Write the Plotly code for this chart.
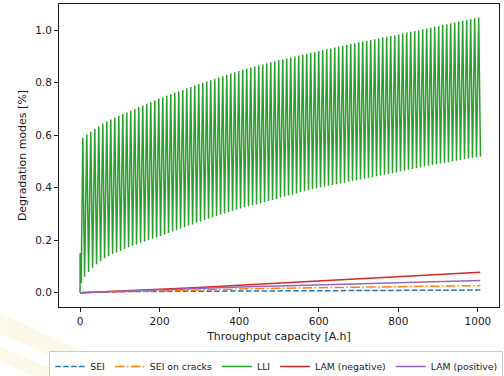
import plotly.graph_objects as go

# ---- throughput axis samples for the slow degradation modes [A.h] ----
mode_ah = [0, 50, 100, 200, 300, 400, 500, 600, 700, 800, 900, 1006]
sei = [0.0, 0.003, 0.004, 0.005, 0.006, 0.007, 0.0075, 0.008, 0.0085, 0.009, 0.0095, 0.010]
sei_cracks = [0.0, 0.002, 0.004, 0.008, 0.011, 0.014, 0.017, 0.019, 0.021, 0.023, 0.025, 0.027]
lam_neg = [0.0, 0.003, 0.006, 0.013, 0.020, 0.028, 0.036, 0.044, 0.052, 0.060, 0.069, 0.078]
lam_pos = [0.0, 0.003, 0.006, 0.012, 0.017, 0.022, 0.026, 0.030, 0.034, 0.038, 0.042, 0.046]

# ---- LLI: initial transient, then one peak (end of charge) and one trough per cycle ----
lli_start_ah = [0.0, 0.3, 3.0]
lli_start = [0.0, 0.151, 0.037]

lli_peak_ah = [
    7.0, 17.05, 27.1, 37.15, 47.2, 57.25, 67.3, 77.35, 87.4, 97.45,
    107.5, 117.55, 127.6, 137.65, 147.7, 157.75, 167.8, 177.85, 187.9, 197.95,
    208.0, 218.05, 228.1, 238.15, 248.2, 258.25, 268.3, 278.35, 288.4, 298.45,
    308.5, 318.55, 328.6, 338.65, 348.7, 358.75, 368.8, 378.85, 388.9, 398.95,
    409.0, 419.05, 429.1, 439.15, 449.2, 459.25, 469.3, 479.35, 489.4, 499.45,
    509.5, 519.55, 529.6, 539.65, 549.7, 559.75, 569.8, 579.85, 589.9, 599.95,
    610.0, 620.05, 630.1, 640.15, 650.2, 660.25, 670.3, 680.35, 690.4, 700.45,
    710.5, 720.55, 730.6, 740.65, 750.7, 760.75, 770.8, 780.85, 790.9, 800.95,
    811.0, 821.05, 831.1, 841.15, 851.2, 861.25, 871.3, 881.35, 891.4, 901.45,
    911.5, 921.55, 931.6, 941.65, 951.7, 961.75, 971.8, 981.85, 991.9, 1001.95,
]
lli_peak = [
    0.590, 0.602, 0.613, 0.623, 0.634, 0.644, 0.652, 0.659, 0.666, 0.673,
    0.680, 0.686, 0.693, 0.699, 0.706, 0.712, 0.719, 0.725, 0.732, 0.739,
    0.744, 0.750, 0.755, 0.761, 0.766, 0.772, 0.778, 0.783, 0.789, 0.794,
    0.799, 0.804, 0.809, 0.814, 0.819, 0.824, 0.829, 0.834, 0.839, 0.844,
    0.849, 0.853, 0.857, 0.861, 0.865, 0.869, 0.873, 0.877, 0.881, 0.885,
    0.888, 0.892, 0.895, 0.899, 0.902, 0.906, 0.909, 0.913, 0.916, 0.920,
    0.923, 0.927, 0.930, 0.933, 0.937, 0.940, 0.943, 0.947, 0.950, 0.953,
    0.956, 0.959, 0.962, 0.965, 0.968, 0.971, 0.974, 0.977, 0.980, 0.983,
    0.987, 0.990, 0.993, 0.996, 0.999, 1.003, 1.006, 1.009, 1.012, 1.015,
    1.019, 1.022, 1.025, 1.029, 1.032, 1.035, 1.038, 1.042, 1.045, 1.048,
]
lli_trough_ah = [
    11.5, 21.55, 31.6, 41.65, 51.7, 61.75, 71.8, 81.85, 91.9, 101.95,
    112.0, 122.05, 132.1, 142.15, 152.2, 162.25, 172.3, 182.35, 192.4, 202.45,
    212.5, 222.55, 232.6, 242.65, 252.7, 262.75, 272.8, 282.85, 292.9, 302.95,
    313.0, 323.05, 333.1, 343.15, 353.2, 363.25, 373.3, 383.35, 393.4, 403.45,
    413.5, 423.55, 433.6, 443.65, 453.7, 463.75, 473.8, 483.85, 493.9, 503.95,
    514.0, 524.05, 534.1, 544.15, 554.2, 564.25, 574.3, 584.35, 594.4, 604.45,
    614.5, 624.55, 634.6, 644.65, 654.7, 664.75, 674.8, 684.85, 694.9, 704.95,
    715.0, 725.05, 735.1, 745.15, 755.2, 765.25, 775.3, 785.35, 795.4, 805.45,
    815.5, 825.55, 835.6, 845.65, 855.7, 865.75, 875.8, 885.85, 895.9, 905.95,
    916.0, 926.05, 936.1, 946.15, 956.2, 966.25, 976.3, 986.35, 996.4, 1006.45,
]
lli_trough = [
    0.061, 0.079, 0.095, 0.108, 0.120, 0.131, 0.139, 0.147, 0.153, 0.159,
    0.166, 0.173, 0.179, 0.184, 0.190, 0.195, 0.200, 0.205, 0.211, 0.216,
    0.222, 0.227, 0.233, 0.238, 0.244, 0.249, 0.255, 0.260, 0.266, 0.271,
    0.277, 0.282, 0.287, 0.292, 0.297, 0.302, 0.307, 0.312, 0.317, 0.321,
    0.325, 0.329, 0.333, 0.337, 0.341, 0.345, 0.349, 0.353, 0.357, 0.362,
    0.366, 0.370, 0.374, 0.378, 0.382, 0.386, 0.390, 0.394, 0.398, 0.401,
    0.404, 0.407, 0.410, 0.413, 0.416, 0.419, 0.422, 0.425, 0.428, 0.431,
    0.434, 0.437, 0.440, 0.443, 0.446, 0.449, 0.452, 0.455, 0.458, 0.462,
    0.465, 0.468, 0.471, 0.474, 0.477, 0.480, 0.483, 0.486, 0.489, 0.492,
    0.494, 0.497, 0.500, 0.502, 0.505, 0.508, 0.510, 0.513, 0.515, 0.518,
]

x_ticks = [0, 200, 400, 600, 800, 1000]
y_ticks = [0.0, 0.2, 0.4, 0.6, 0.8, 1.0]

# interleave peaks and troughs into one continuous LLI trace
lli_x = list(lli_start_ah)
lli_y = list(lli_start)
for xp, yp, xt, yt in zip(lli_peak_ah, lli_peak, lli_trough_ah, lli_trough):
    lli_x += [xp, xt]
    lli_y += [yp, yt]

FONT = "DejaVu Sans"
INK = "#1a1a1a"

fig = go.Figure()
fig.add_trace(go.Scatter(x=mode_ah, y=sei, mode="lines", name="SEI",
                         line=dict(color="#1f77b4", width=1.5, dash="5.5px,2.4px")))
fig.add_trace(go.Scatter(x=mode_ah, y=sei_cracks, mode="lines", name="SEI on cracks",
                         line=dict(color="#ff7f0e", width=1.5, dash="9.6px,2.4px,1.5px,2.4px")))
fig.add_trace(go.Scatter(x=lli_x, y=lli_y, mode="lines", name="LLI",
                         line=dict(color="#2ca02c", width=1.5)))
fig.add_trace(go.Scatter(x=mode_ah, y=lam_neg, mode="lines", name="LAM (negative)",
                         line=dict(color="#d62728", width=1.5)))
fig.add_trace(go.Scatter(x=mode_ah, y=lam_pos, mode="lines", name="LAM (positive)",
                         line=dict(color="#9467bd", width=1.5)))

# faint diagonal bands of the page background, lower left
fig.add_shape(type="path", xref="paper", yref="paper", layer="below",
              path="M -0.134,-0.02 L 0.20,-0.245 L 0.12,-0.245 L -0.134,-0.09 Z",
              fillcolor="rgba(250,238,190,0.35)", line_width=0)
fig.add_shape(type="path", xref="paper", yref="paper", layer="below",
              path="M -0.134,-0.13 L 0.05,-0.245 L -0.03,-0.245 L -0.134,-0.18 Z",
              fillcolor="rgba(250,238,190,0.35)", line_width=0)

axis_common = dict(
    showgrid=False, zeroline=False,
    showline=True, linecolor=INK, linewidth=1, mirror=True,
    ticks="outside", ticklen=4, tickwidth=1, tickcolor=INK,
    tickfont=dict(family=FONT, size=10.5, color=INK),
)

fig.update_layout(
    width=504, height=376,
    margin=dict(l=59, r=5, t=4, b=69, autoexpand=False),
    paper_bgcolor="white", plot_bgcolor="white",
    font=dict(family=FONT, color=INK),
    xaxis=dict(range=[-52.8, 1053], tickvals=x_ticks,
               ticktext=[str(v) for v in x_ticks],
               title=dict(text="Throughput capacity [A.h]",
                          font=dict(family=FONT, size=11, color=INK), standoff=6),
               **axis_common),
    yaxis=dict(range=[-0.0544, 1.099], tickvals=y_ticks,
               ticktext=[f"{v:.1f}" for v in y_ticks],
               title=dict(text="Degradation modes [%]",
                          font=dict(family=FONT, size=11, color=INK), standoff=6),
               **axis_common),
    legend=dict(orientation="h", x=-0.022, xanchor="left", y=-0.145, yanchor="top",
                bgcolor="rgba(255,255,255,0.85)", bordercolor="#cccccc", borderwidth=1,
                font=dict(family=FONT, size=9.3, color=INK),
                itemwidth=30, tracegroupgap=0),
    showlegend=True,
)

fig.write_html("out.html")
